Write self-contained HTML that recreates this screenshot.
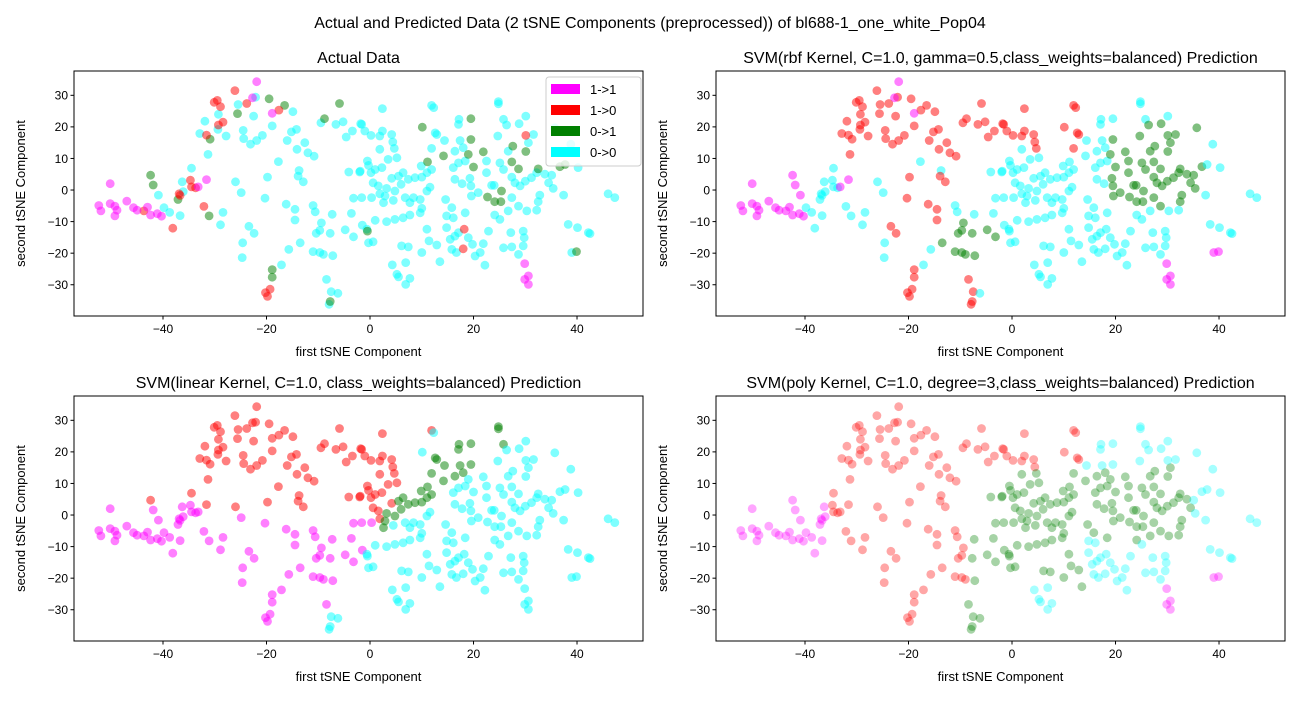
<!DOCTYPE html>
<html><head><meta charset="utf-8"><style>
body{margin:0;background:#fff;}
svg text{font-family:"Liberation Sans","DejaVu Sans",sans-serif;fill:#000;}
</style></head><body>
<svg id="fig" width="1300" height="700" viewBox="0 0 1300 700" xmlns="http://www.w3.org/2000/svg">
<rect width="1300" height="700" fill="#fff"/>
<text x="650" y="28" font-size="16" text-anchor="middle">Actual and Predicted Data (2 tSNE Components (preprocessed)) of bl688-1_one_white_Pop04</text>
</svg>
<script>
// ---- data (tSNE coordinates, grouped by actual class) ----
const magX=[-21.9,-50.2,-52.4,-52.0,-50.2,-49.3,-48.9,-49.3,-47.0,-45.7,-45.0,-43.0,-42.4,-41.1,-40.3,-31.6,-33.2,-22.7,-18.9,29.9,30.6,29.9,30.6];
const magY=[34.3,2.0,-4.9,-6.6,-4.3,-5.1,-6.4,-8.2,-3.5,-5.6,-6.4,-5.4,-7.9,-7.5,-8.3,3.3,1.0,29.2,24.3,-23.3,-27.2,-28.3,-29.9];
const redX=[-26.1,-30.1,-29.5,-28.9,-29.3,-28.4,-31.6,-23.8,-34.7,-34.5,-33.7,-36.9,-36.7,-43.7,-32.1,-38.1,-20.2,-19.3,-19.8,-17.6,30.1,18.2,18.0];
const redY=[31.5,27.8,28.4,26.4,20.6,21.5,17.4,27.4,3.1,1.0,0.7,-1.2,-1.7,-6.6,-5.2,-12.1,-32.5,-31.4,-33.7,25.3,17.3,-12.4,-18.6];
const grnX=[-19.5,-16.5,-25.6,-30.9,-42.4,-41.9,-37.1,-31.1,-5.9,-8.8,-18.9,-18.9,-7.7,10.1,19.5,19.5,19.0,21.9,20.0,14.2,11.1,27.6,30.1,27.4,28.7,32.5,36.7,37.7,22.7,24.1,25.3,25.4,-0.5,39.9];
const grnY=[28.9,26.8,24.2,16.1,4.7,1.6,-3.0,-8.2,27.4,22.6,-25.2,-27.6,-35.3,19.9,22.6,16.0,11.3,12.1,7.3,10.8,8.9,13.9,12.2,8.9,6.7,6.7,7.4,8.1,-2.2,-3.7,-3.7,-0.3,-13.0,-19.5];
const cyaX=[-22.1,-25.5,-29.3,-31.9,-29.4,-27.8,-32.9,-24.5,-24.4,-23.1,-21.9,-20.8,-22.5,-18.9,-14.9,-15.2,-14.2,-16.0,-12.6,-14.1,-12.0,-10.8,-9.5,-6.6,-5.2,-3.4,-4.6,-1.8,-17.7,-31.3,-34.5,-36.3,-36.1,-40.9,-39.8,-38.7,-36.7,-28.4,-28.9,-26.0,-24.9,-19.8,-13.7,-13.9,-12.9,-20.3,-16.2,-14.5,-11.0,-10.6,-7.3,-14.5,-9.4,-9.7,-10.4,-7.7,-4.8,-3.2,-3.6,-3.2,-4.1,-2.0,-23.4,-22.4,-24.6,-24.7,-13.5,-15.7,-11.0,-9.7,-9.0,-7.2,-17.1,-8.4,-7.5,-6.2,-7.9,
2.4,11.9,12.3,24.8,24.8,-1.6,-1.0,0.2,1.9,2.4,4.2,4.4,4.7,5.2,1.9,-0.5,-0.3,1.0,0.2,2.3,3.5,-1.9,0.6,1.6,3.2,4.2,5.5,6.4,7.4,8.7,10.0,11.0,11.9,9.9,12.6,12.9,14.4,11.9,16.4,17.1,17.2,17.4,18.0,17.1,18.4,16.1,16.4,17.8,19.3,19.5,20.9,22.5,22.5,23.5,24.7,25.8,26.4,28.8,30.1,31.6,30.6,26.7,25.1,25.8,27.4,28.0,29.0,30.0,31.2,32.2,33.8,35.1,34.5,35.4,37.4,32.8,32.5,32.2,30.3,28.7,27.4,26.7,24.1,25.1,22.9,27.2,29.6,29.8,29.6,28.7,27.4,25.8,38.3,40.1,42.2,42.5,39.0,46.0,47.3,38.8,35.7,40.2,-1.6,0.3,1.9,2.6,4.5,6.8,7.7,8.4,9.7,10.0,9.7,7.7,6.4,4.8,3.2,1.0,-1.5,-0.6,-0.3,0.6,11.0,11.4,12.9,10.0,6.1,7.4,14.8,15.5,16.4,17.1,19.0,19.8,21.3,21.9,15.8,16.7,20.3,13.5,6.9,4.3,5.2,5.5,7.7,6.9,22.2,18.4,14.8,16.1,15.8,14.6,19.6,24.0,6.0,4.8,2.9,11.6,11.0];
const cyaY=[29.4,27.1,24.0,21.8,19.2,17.1,17.9,18.9,16.3,14.5,15.7,17.3,23.4,20.3,24.8,18.4,19.2,15.7,15.0,12.9,11.8,10.7,21.3,20.8,21.6,18.7,16.8,21.0,9.0,11.3,6.9,2.6,-0.5,-1.6,-5.6,-7.1,-8.1,-7.1,-11.0,2.6,-0.8,4.1,6.2,4.4,2.6,-2.6,-4.5,-6.1,-4.9,-6.9,-7.7,-9.5,-10.4,-12.8,-13.7,-13.7,-12.6,-14.8,-7.4,-2.6,5.7,5.7,-11.5,-13.7,-16.7,-21.4,-16.7,-18.8,-19.5,-19.8,-20.4,-20.8,-23.7,-28.3,-32.2,-32.7,-36.2,
25.8,26.8,26.1,28.0,27.3,20.8,18.7,17.3,17.1,18.7,17.6,15.2,13.2,10.2,12.9,9.2,7.8,6.5,5.5,7.1,9.7,6.0,2.3,1.3,0.5,3.7,4.4,5.5,3.4,3.9,4.1,5.5,6.5,7.6,18.1,17.6,15.7,13.2,12.3,20.8,22.4,15.7,13.4,8.6,9.2,7.1,3.4,2.0,3.7,1.3,-0.8,5.5,9.2,1.5,17.1,22.4,20.6,21.0,23.4,17.6,15.0,12.3,8.6,6.5,4.1,2.3,1.3,2.8,3.9,5.5,5.0,4.7,2.3,0.5,-1.6,-1.6,-3.7,-6.4,-6.6,-5.1,-2.4,-6.6,-7.9,-9.3,-13.0,-13.5,-13.0,-15.1,-17.7,-20.4,-18.0,-18.3,-10.9,-11.9,-13.5,-13.8,-19.8,-1.2,-2.4,14.5,19.7,7.1,-2.4,-2.4,-1.2,-4.0,-3.3,-2.4,-4.0,-2.4,-3.0,-5.8,-7.2,-7.9,-8.8,-9.3,-10.0,-9.6,-11.1,-12.4,-16.7,-16.4,-12.4,-16.1,-17.4,-19.8,-17.7,-18.0,-11.9,-15.6,-14.6,-13.5,-15.1,-17.2,-19.8,-17.0,-18.8,-19.8,-20.9,-22.7,-23.0,-23.7,-26.7,-27.5,-28.0,-29.9,-23.8,-7.2,-8.2,-8.8,-5.6,-3.0,-1.9,1.5,1.8,-0.3,-1.9,0.9,-0.3];
const xTicks=[-40,-20,0,20,40];
const yTicks=[-30,-20,-10,0,10,20,30];
const legendLabels=["1->1","1->0","0->1","0->0"];
const COLORS={m:"#ff00ff",r:"#ff0000",g:"#008000",c:"#00ffff"};
const X0=-57.2,X1=52.75,Y0=-39.9,Y1=37.7;

// build point list
const pts=[];
function add(xs,ys,k){for(let i=0;i<xs.length;i++)pts.push({x:xs[i],y:ys[i],a:k});}
add(cyaX,cyaY,'c');add(grnX,grnY,'g');add(redX,redY,'r');add(magX,magY,'m');

function rbf(p){const x=p.x,y=p.y;
  if(p.a==='m')return 'm';
  if(x<-40)return 'm';
  if(x>38&&y<-15)return 'm';
  if(x>=19&&x<=37&&y>-6&&y<22)return 'g';
  if(x>-14&&x<-2&&y<-8&&y>-28)return 'g';
  if(x<-2&&x>-35&&y>9)return 'r';
  if(x>=-2&&x<14&&y>13)return 'r';
  if(x>-24&&x<-7&&y<-24)return 'r';
  if(x>-24&&x<-12&&y<5&&y>-15)return 'r';
  return 'c';}
function lin(p){const x=p.x,y=p.y;
  if(x<0.35*y+3){return y>2-0.12*(x+25)?'r':'m';}
  if(y>1.1*x-8&&y<1.1*x+5&&x<28)return 'g';
  return 'c';}
function poly(p){const x=p.x,y=p.y;
  if(x<-35)return 'm';
  if(x>25&&y<-18)return p.a==='m'||x>38?'m':'c';
  if(x<-8)return (x>-12&&y<-25)?'g':'r';
  if(y>14&&x<14)return 'r';
  if(x>35)return 'c';
  if(x>14&&(y<-8||y>15))return 'c';
  if(x>=0&&x<10&&y<-18)return 'c';
  return 'g';}

const NS="http://www.w3.org/2000/svg";
const svg=document.getElementById('fig');
function el(t,at,parent){const e=document.createElementNS(NS,t);for(const k in at)e.setAttribute(k,at[k]);(parent||svg).appendChild(e);return e;}

const panels=[
 {l:74,t:71,title:"Actual Data",f:p=>p.a,alpha:0.5,name:"actual-data"},
 {l:716,t:71,title:"SVM(rbf Kernel, C=1.0, gamma=0.5,class_weights=balanced) Prediction",f:rbf,alpha:0.5,name:"rbf-prediction"},
 {l:74,t:396,title:"SVM(linear Kernel, C=1.0, class_weights=balanced) Prediction",f:lin,alpha:0.5,name:"linear-prediction"},
 {l:716,t:396,title:"SVM(poly Kernel, C=1.0, degree=3,class_weights=balanced) Prediction",f:poly,alpha:0.35,name:"poly-prediction"}];
const W=569,H=245;
panels.forEach((P,pi)=>{
  const g=el('g',{});
  
  
  const sx=v=>P.l+(v-X0)/(X1-X0)*W;
  const sy=v=>P.t+(Y1-v)/(Y1-Y0)*H;
  const tt=el('text',{x:P.l+W/2,y:P.t-8,'font-size':16,'text-anchor':'middle'},g);tt.textContent=P.title;
  
  
  const pg=el('g',{},g);
  
  
  pts.forEach(p=>{
    const c=el('circle',{cx:sx(p.x).toFixed(1),cy:sy(p.y).toFixed(1),r:4.4,fill:COLORS[P.f(p)],'fill-opacity':P.alpha},pg);
    
    
  });
  const fr=el('rect',{x:P.l,y:P.t,width:W,height:H,fill:'none',stroke:'#000','stroke-width':1},g);
  
  
  xTicks.forEach(v=>{const x=sx(v);
    el('line',{x1:x,x2:x,y1:P.t+H,y2:P.t+H+3.5,stroke:'#000'},g);
    const t=el('text',{x:x,y:P.t+H+17,'font-size':12,'text-anchor':'middle'},g);t.textContent=v<0?'\u2212'+(-v):v;
    
    });
  yTicks.forEach(v=>{const y=sy(v);
    el('line',{x1:P.l,x2:P.l-3.5,y1:y,y2:y,stroke:'#000'},g);
    const t=el('text',{x:P.l-6,y:y+4.3,'font-size':12,'text-anchor':'end'},g);t.textContent=v<0?'\u2212'+(-v):v;
    
    });
  const xl=el('text',{x:P.l+W/2,y:P.t+H+40,'font-size':13,'text-anchor':'middle'},g);xl.textContent='first tSNE Component';
  
  
  const yx=P.l-49,yy=P.t+H/2;
  const yl=el('text',{x:yx,y:yy,'font-size':13,'text-anchor':'middle',transform:`rotate(-90 ${yx} ${yy})`},g);yl.textContent='second tSNE Component';
  
  
  if(pi===0){
    const lg=el('g',{},g);
    
    
    el('rect',{x:546,y:77,width:95,height:89,rx:3,fill:'#fff','fill-opacity':0.8,stroke:'#ccc'},lg);
    const cols=['m','r','g','c'];
    legendLabels.forEach((lab,i)=>{
      const y=84+i*21;
      const sw=el('rect',{x:551,y:y,width:29,height:10,fill:COLORS[cols[i]]},lg);
      
      
      const t=el('text',{x:590,y:y+10,'font-size':13},lg);t.textContent=lab;
      
      
    });
  }
});
</script>
</body></html>
